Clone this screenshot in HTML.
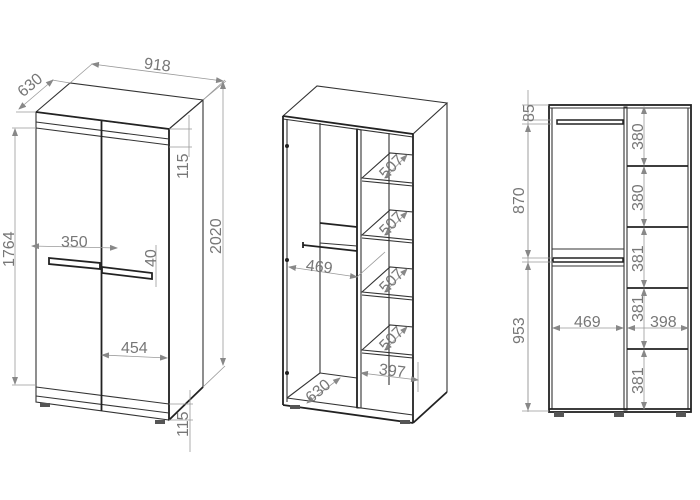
<!DOCTYPE html>
<html><head><meta charset="utf-8"><style>
html,body{margin:0;padding:0;background:#fff;}
svg{display:block;}
text{font-family:"Liberation Sans",sans-serif;font-size:16px;fill:#777;}
.o{stroke:#333;stroke-width:1.1;fill:none;}
.b{stroke:#222;stroke-width:1.8;fill:none;}
.d{stroke:#999;stroke-width:0.8;fill:none;}
</style></head><body>
<svg width="700" height="500" viewBox="0 0 700 500" xmlns="http://www.w3.org/2000/svg">
<defs>
<marker id="m" markerWidth="8" markerHeight="6" refX="7" refY="3" orient="auto-start-reverse" markerUnits="userSpaceOnUse"><path d="M0,0 L8,3 L0,6 z" fill="#888"/></marker>
</defs>

<!-- LEFT WARDROBE -->
<polygon class="o" points="36,112 70,83 203,100 169,129"/>
<polygon class="o" points="169,129 203,100 203,387 169,420"/>
<polygon class="o" points="36,112 169,129 169,420 36,402"/>
<line class="b" x1="36" y1="112" x2="169" y2="129"/>
<line class="b" x1="169" y1="129" x2="169" y2="420"/>
<line class="b" x1="169" y1="420" x2="203" y2="387"/>
<line class="o" x1="36" y1="122" x2="169" y2="139"/>
<line class="o" x1="36" y1="128" x2="169" y2="145"/>
<line class="o" x1="36" y1="387" x2="169" y2="404"/>
<line class="o" x1="36" y1="396" x2="169" y2="413"/>
<line class="b" x1="101.5" y1="121" x2="101.5" y2="411"/>
<polygon class="b" points="49,258 100,263 100,269 49,264"/>
<polygon class="b" points="102,267 152,273 152,279 102,273"/>
<rect x="40" y="403" width="10" height="4" fill="#555"/>
<rect x="155" y="420" width="10" height="4" fill="#555"/>
<!-- dims left -->
<line class="d" x1="70" y1="83" x2="92" y2="64"/><line class="d" x1="203" y1="100" x2="225" y2="80"/>
<line class="d" x1="92" y1="64" x2="223" y2="81" marker-start="url(#m)" marker-end="url(#m)"/>
<text x="144" y="70" transform="rotate(7 157 65)">918</text>
<line class="d" x1="36" y1="112" x2="16" y2="112"/><line class="d" x1="70" y1="83" x2="52" y2="80"/>
<line class="d" x1="19" y1="109" x2="53" y2="80" marker-start="url(#m)" marker-end="url(#m)"/>
<text x="16" y="90" transform="rotate(-40 30 84)">630</text>
<line class="d" x1="203" y1="100" x2="226" y2="81"/>
<line class="d" x1="203" y1="387" x2="225" y2="366"/>
<line class="d" x1="223" y1="82" x2="223" y2="365" marker-start="url(#m)" marker-end="url(#m)"/>
<text x="198" y="243" transform="rotate(-90 215 237)">2020</text>
<line class="d" x1="12" y1="128" x2="36" y2="128"/><line class="d" x1="12" y1="385" x2="36" y2="385"/>
<line class="d" x1="15" y1="129" x2="15" y2="384" marker-start="url(#m)" marker-end="url(#m)"/>
<text x="-9" y="256" transform="rotate(-90 8 250)">1764</text>
<line class="d" x1="169" y1="129" x2="192" y2="129"/><line class="d" x1="169" y1="147" x2="192" y2="147"/>
<line class="d" x1="189" y1="115" x2="189" y2="157"/>
<text x="170" y="173" transform="rotate(-90 182 167)">115</text>
<line class="d" x1="169" y1="404" x2="193" y2="404"/><line class="d" x1="169" y1="420" x2="193" y2="420"/>
<line class="d" x1="190" y1="390" x2="190" y2="452"/>
<text x="170" y="431" transform="rotate(-90 182 425)">115</text>
<line class="d" x1="32" y1="246" x2="117" y2="248" marker-start="url(#m)" marker-end="url(#m)"/>
<text x="61" y="247">350</text>
<line class="d" x1="156" y1="245" x2="156" y2="287"/>
<text x="141" y="264" transform="rotate(-90 150 258)">40</text>
<line class="d" x1="102" y1="355" x2="167" y2="358" marker-start="url(#m)" marker-end="url(#m)"/>
<text x="121" y="353">454</text>

<!-- MIDDLE WARDROBE -->
<polygon class="o" points="283,116 317,86 447,103 413,134"/>
<line class="b" x1="283" y1="116" x2="413" y2="134"/>
<line class="o" x1="283" y1="119" x2="413" y2="137"/>
<line class="b" x1="283" y1="116" x2="283" y2="405"/>
<line class="o" x1="287" y1="119" x2="287" y2="402"/>
<line class="b" x1="413" y1="134" x2="413" y2="423"/>
<line class="o" x1="447" y1="103" x2="447" y2="392"/>
<line class="b" x1="413" y1="423" x2="447" y2="392"/>
<line class="b" x1="283" y1="405" x2="413" y2="423"/>
<line class="o" x1="287" y1="398" x2="413" y2="415"/>
<line class="o" x1="320" y1="123" x2="320" y2="373"/>
<line class="o" x1="320" y1="373" x2="357" y2="378"/>
<line class="o" x1="287" y1="398" x2="320" y2="373"/>
<line class="o" x1="389" y1="133" x2="389" y2="385"/>
<polygon class="o" points="357,129 361,130 361,408 357,408"/>
<line class="b" x1="357" y1="129" x2="357" y2="408"/>
<g class="o">
<polygon points="362,178 390,153 413,155 413,183"/><line x1="362" y1="181" x2="413" y2="186"/>
<polygon points="362,235 390,210 413,212 413,240"/><line x1="362" y1="238" x2="413" y2="243"/>
<polygon points="362,292 390,267 413,269 413,297"/><line x1="362" y1="295" x2="413" y2="300"/>
<polygon points="362,350 390,325 413,327 413,355"/><line x1="362" y1="353" x2="413" y2="358"/>
</g>
<line class="b" x1="320" y1="223" x2="357" y2="227"/>
<line class="o" x1="320" y1="243" x2="357" y2="246"/>
<line class="b" x1="303" y1="245" x2="357" y2="251"/>
<line class="b" x1="303" y1="242" x2="303" y2="248"/>
<circle cx="287" cy="146" r="2" fill="#222"/><circle cx="287" cy="260" r="2" fill="#222"/><circle cx="287" cy="373" r="2" fill="#222"/>
<rect x="290" y="405" width="10" height="4" fill="#555"/><rect x="400" y="420" width="10" height="4" fill="#555"/>
<g class="d">
<line x1="385" y1="178" x2="407" y2="155" marker-start="url(#m)" marker-end="url(#m)"/>
<line x1="385" y1="235" x2="407" y2="212" marker-start="url(#m)" marker-end="url(#m)"/>
<line x1="385" y1="292" x2="407" y2="269" marker-start="url(#m)" marker-end="url(#m)"/>
<line x1="385" y1="350" x2="407" y2="327" marker-start="url(#m)" marker-end="url(#m)"/>
<line x1="289" y1="267" x2="357" y2="277" marker-start="url(#m)" marker-end="url(#m)"/>
<line x1="357" y1="277" x2="385" y2="252"/>
<line x1="307" y1="403" x2="340" y2="378" marker-start="url(#m)" marker-end="url(#m)"/>
<line x1="361" y1="373" x2="418" y2="380" marker-start="url(#m)" marker-end="url(#m)"/>
<line x1="418" y1="362" x2="418" y2="392"/>
</g>
<text x="377" y="171" transform="rotate(-45 392 165)">507</text>
<text x="377" y="228" transform="rotate(-45 392 222)">507</text>
<text x="377" y="285" transform="rotate(-45 392 279)">507</text>
<text x="377" y="343" transform="rotate(-45 392 337)">507</text>
<text x="306" y="272" transform="rotate(7 320 266)">469</text>
<text x="304" y="396" transform="rotate(-40 318 390)">630</text>
<text x="379" y="376" transform="rotate(7 393 370)">397</text>

<!-- RIGHT VIEW -->
<rect class="b" x="549" y="105" width="142" height="307"/>
<line class="o" x1="552" y1="108" x2="552" y2="409"/>
<line class="o" x1="688" y1="108" x2="688" y2="409"/>
<line class="o" x1="549" y1="108" x2="691" y2="108"/>
<rect class="o" x="624" y="107" width="3" height="303"/>
<g class="b">
<line x1="627" y1="166" x2="688" y2="166"/>
<line x1="627" y1="227" x2="688" y2="227"/>
<line x1="627" y1="288" x2="688" y2="288"/>
<line x1="627" y1="349" x2="688" y2="349"/>
</g>
<rect x="557" y="120" width="66" height="4" fill="none" stroke="#222" stroke-width="1.5"/>
<line class="o" x1="552" y1="249" x2="624" y2="249"/>
<line class="o" x1="552" y1="266" x2="624" y2="266"/>
<rect x="553" y="258" width="70" height="4" fill="none" stroke="#222" stroke-width="1.5"/>
<line class="b" x1="549" y1="409" x2="691" y2="409"/>
<rect x="554" y="412" width="10" height="5" fill="#555"/><rect x="614" y="412" width="10" height="5" fill="#555"/><rect x="676" y="412" width="10" height="5" fill="#555"/>
<g class="d">
<line x1="528" y1="90" x2="528" y2="412"/>
<line x1="522" y1="105" x2="549" y2="105"/><line x1="522" y1="120" x2="553" y2="120"/><line x1="522" y1="124" x2="553" y2="124"/>
<line x1="522" y1="258" x2="553" y2="258"/><line x1="522" y1="262" x2="553" y2="262"/><line x1="522" y1="411" x2="549" y2="411"/>
<line x1="528" y1="125" x2="528" y2="257" marker-start="url(#m)" marker-end="url(#m)"/>
<line x1="528" y1="263" x2="528" y2="410" marker-start="url(#m)" marker-end="url(#m)"/>
<line x1="644" y1="107" x2="644" y2="165" marker-start="url(#m)" marker-end="url(#m)"/>
<line x1="644" y1="167" x2="644" y2="226" marker-start="url(#m)" marker-end="url(#m)"/>
<line x1="644" y1="228" x2="644" y2="287" marker-start="url(#m)" marker-end="url(#m)"/>
<line x1="644" y1="289" x2="644" y2="348" marker-start="url(#m)" marker-end="url(#m)"/>
<line x1="644" y1="350" x2="644" y2="409" marker-start="url(#m)" marker-end="url(#m)"/>
<line x1="553" y1="328" x2="623" y2="328" marker-start="url(#m)" marker-end="url(#m)"/>
<line x1="628" y1="328" x2="688" y2="328" marker-start="url(#m)" marker-end="url(#m)"/>
</g>
<text x="519" y="119" transform="rotate(-90 528 113)">85</text>
<text x="504" y="206" transform="rotate(-90 518 200)">870</text>
<text x="504" y="336" transform="rotate(-90 518 330)">953</text>
<text x="623" y="142" transform="rotate(-90 637 136)">380</text>
<text x="623" y="203" transform="rotate(-90 637 197)">380</text>
<text x="623" y="264" transform="rotate(-90 637 258)">381</text>
<text x="623" y="314" transform="rotate(-90 637 308)">381</text>
<text x="623" y="386" transform="rotate(-90 637 380)">381</text>
<text x="574" y="327">469</text>
<text x="650" y="327">398</text>
</svg>
</body></html>
